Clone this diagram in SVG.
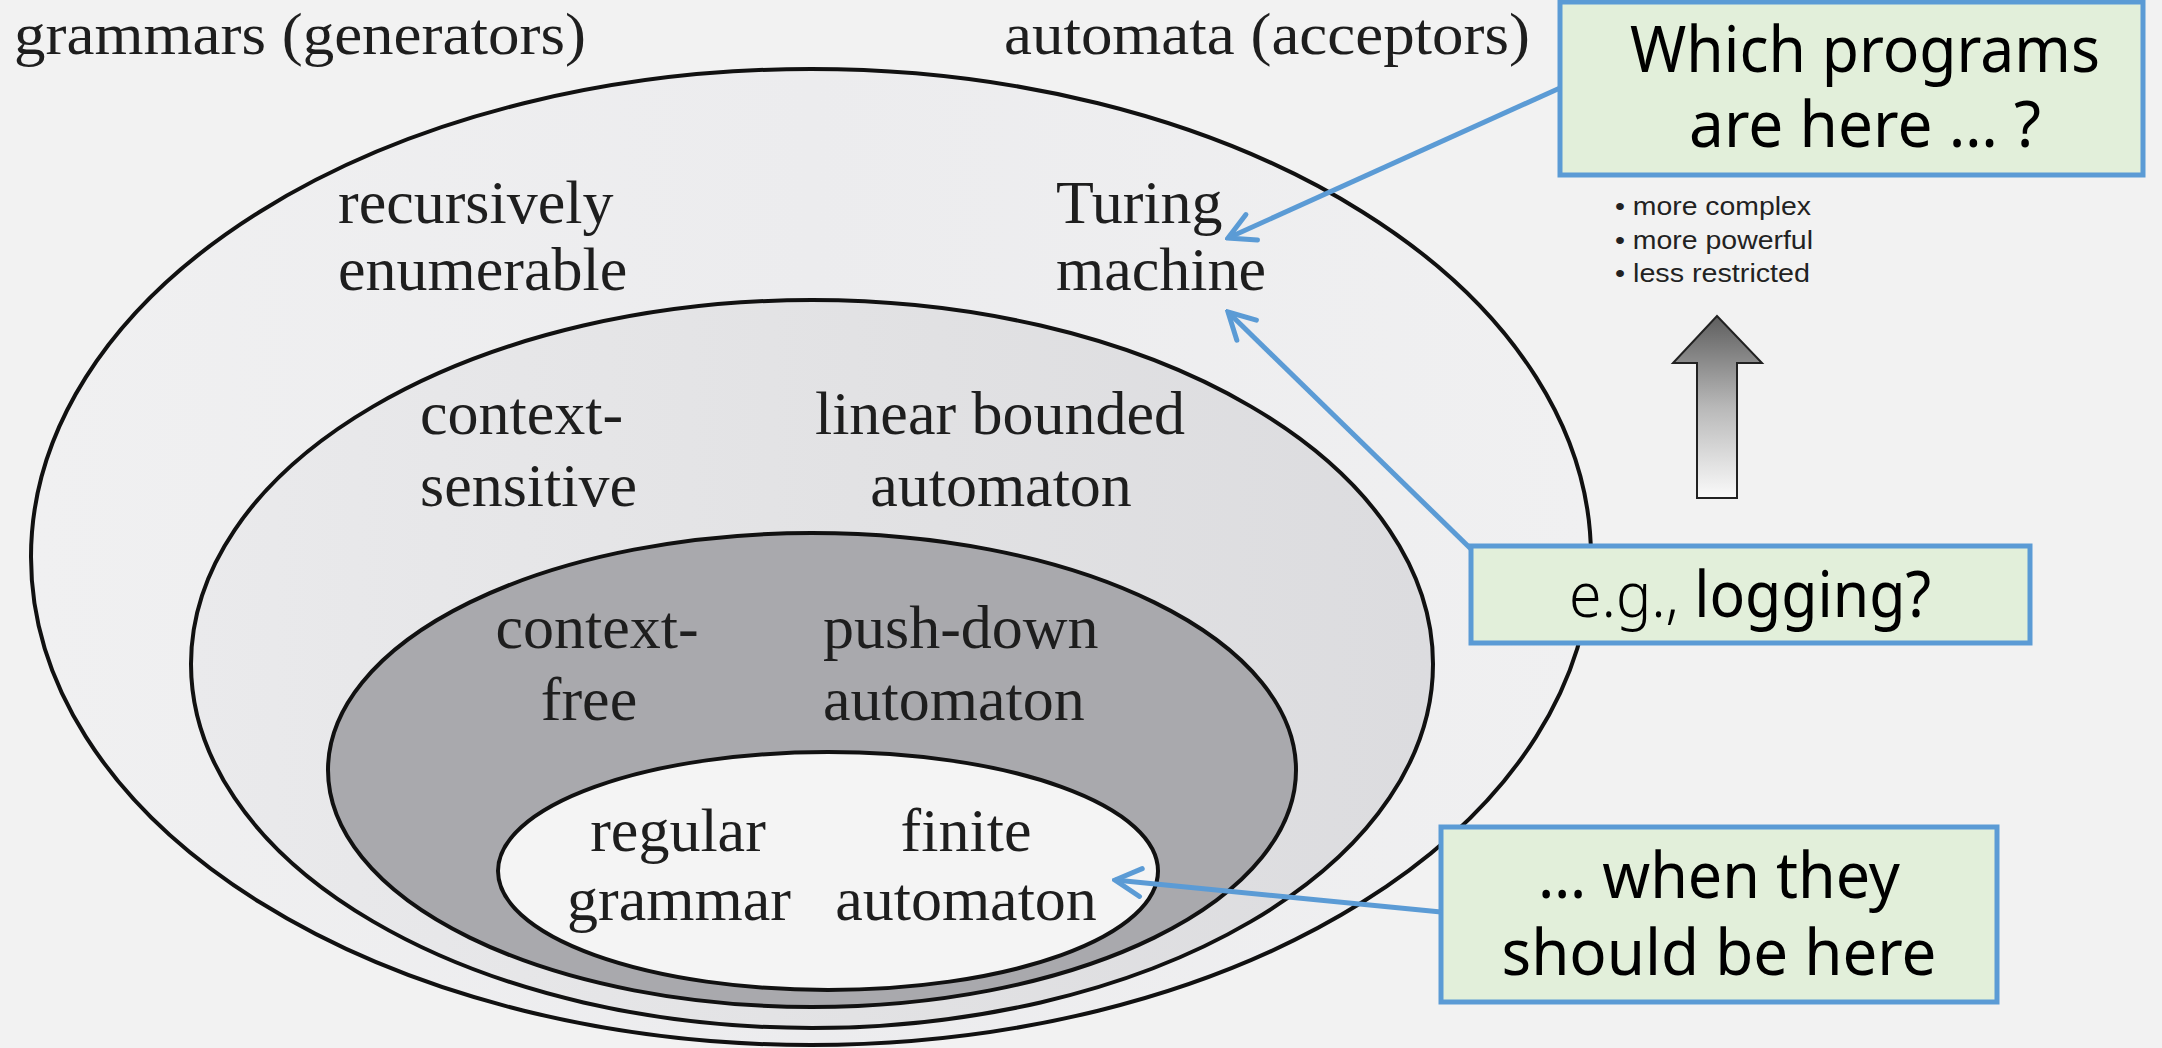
<svg xmlns="http://www.w3.org/2000/svg" width="2162" height="1048" viewBox="0 0 2162 1048">
  <style>
    .serif { font-family: "Liberation Serif", "Times New Roman", serif; font-size: 62px; fill: #1e1e1e; }
    .head { font-family: "Liberation Serif", "Times New Roman", serif; font-size: 60px; fill: #1e1e1e; }
    .ring { stroke: #111; stroke-width: 4; }
    .box { fill: #e2efda; stroke: #5b9bd5; stroke-width: 5; }
    .callout { font-family: "Noto Sans", "Open Sans", sans-serif; font-size: 63px; fill: #000; text-anchor: middle; }
    .legend { font-family: "Liberation Sans", Arial, sans-serif; font-size: 26px; fill: #222; }
    .conn { stroke: #5b9bd5; stroke-width: 5; fill: none; }
  </style>
  <defs>
    <marker id="arr" markerUnits="userSpaceOnUse" markerWidth="34" markerHeight="34" viewBox="0 0 34 34" refX="31" refY="17" orient="auto">
      <path d="M5,3 L31,17 L5,31" fill="none" stroke="#5b9bd5" stroke-width="5" stroke-linecap="round" stroke-linejoin="miter"/>
    </marker>
    <linearGradient id="gArrow" x1="0" y1="0" x2="0" y2="1">
      <stop offset="0" stop-color="#5e5e5e"/>
      <stop offset="0.5" stop-color="#b8b8b8"/>
      <stop offset="1" stop-color="#fafafa"/>
    </linearGradient>
    <linearGradient id="gOuter" x1="0" y1="0" x2="1" y2="0">
      <stop offset="0" stop-color="#f0f0f1"/>
      <stop offset="0.5" stop-color="#ececee"/>
      <stop offset="1" stop-color="#f0f0f1"/>
    </linearGradient>
    <linearGradient id="gSecond" x1="0" y1="0" x2="1" y2="0">
      <stop offset="0" stop-color="#eaeaec"/>
      <stop offset="0.6" stop-color="#e1e1e3"/>
      <stop offset="1" stop-color="#dcdcdf"/>
    </linearGradient>
  </defs>

  <rect x="0" y="0" width="2162" height="1048" fill="#f2f2f2"/>

  <g id="headings">
    <text class="head" x="14" y="54" textLength="572" lengthAdjust="spacingAndGlyphs">grammars (generators)</text>
    <text class="head" x="1004" y="54" textLength="526" lengthAdjust="spacingAndGlyphs">automata (acceptors)</text>
  </g>

  <g id="recursively-enumerable">
    <ellipse class="ring" cx="811" cy="557" rx="780" ry="488" fill="url(#gOuter)"/>
    <text class="serif" x="338" y="223">recursively</text>
    <text class="serif" x="338" y="290">enumerable</text>
    <text class="serif" x="1056" y="223">Turing</text>
    <text class="serif" x="1056" y="290">machine</text>
  </g>

  <g id="context-sensitive">
    <ellipse class="ring" cx="812" cy="664" rx="621" ry="364" fill="url(#gSecond)"/>
    <text class="serif" x="420" y="434">context-</text>
    <text class="serif" x="420" y="506">sensitive</text>
    <text class="serif" x="1000" y="434" text-anchor="middle">linear bounded</text>
    <text class="serif" x="1001" y="506" text-anchor="middle">automaton</text>
  </g>

  <g id="context-free">
    <ellipse class="ring" cx="812" cy="770" rx="484" ry="237" fill="#a9a9ad"/>
    <text class="serif" x="597" y="648" text-anchor="middle">context-</text>
    <text class="serif" x="589" y="720" text-anchor="middle">free</text>
    <text class="serif" x="823" y="648">push-down</text>
    <text class="serif" x="823" y="720">automaton</text>
  </g>

  <g id="regular">
    <ellipse class="ring" cx="828" cy="871" rx="330" ry="119" fill="#f4f4f4"/>
    <text class="serif" x="678" y="851" text-anchor="middle">regular</text>
    <text class="serif" x="679" y="920" text-anchor="middle">grammar</text>
    <text class="serif" x="966" y="851" text-anchor="middle">finite</text>
    <text class="serif" x="966" y="920" text-anchor="middle">automaton</text>
  </g>

  <g id="legend">
    <text class="legend" x="1615" y="215" textLength="196" lengthAdjust="spacingAndGlyphs">• more complex</text>
    <text class="legend" x="1615" y="249" textLength="198" lengthAdjust="spacingAndGlyphs">• more powerful</text>
    <text class="legend" x="1615" y="282" textLength="195" lengthAdjust="spacingAndGlyphs">• less restricted</text>
    <path d="M1717,316 L1762,363 L1737,363 L1737,498 L1697,498 L1697,363 L1673,363 Z" fill="url(#gArrow)" stroke="#222" stroke-width="2" stroke-linejoin="miter"/>
  </g>

  <g id="callout-which">
    <rect class="box" x="1560" y="2" width="583" height="173"/>
    <text class="callout" x="1865" y="72" textLength="470" lengthAdjust="spacingAndGlyphs">Which programs</text>
    <text class="callout" x="1865" y="147" textLength="352" lengthAdjust="spacingAndGlyphs">are here … ?</text>
  </g>

  <g id="callout-logging">
    <rect class="box" x="1471" y="546" width="559" height="97"/>
    <text class="callout" x="1750" y="617" textLength="362" lengthAdjust="spacingAndGlyphs"><tspan font-weight="300">e.g., </tspan><tspan>logging?</tspan></text>
  </g>

  <g id="callout-should">
    <rect class="box" x="1441" y="827" width="556" height="175"/>
    <text class="callout" x="1719" y="898" textLength="362" lengthAdjust="spacingAndGlyphs">… when they</text>
    <text class="callout" x="1719" y="975" textLength="435" lengthAdjust="spacingAndGlyphs">should be here</text>
  </g>

  <g id="connectors">
    <line class="conn" x1="1560" y1="88" x2="1228" y2="238" marker-end="url(#arr)"/>
    <line class="conn" x1="1471" y1="549" x2="1228" y2="312" marker-end="url(#arr)"/>
    <line class="conn" x1="1441" y1="912" x2="1115" y2="880" marker-end="url(#arr)"/>
  </g>
</svg>
